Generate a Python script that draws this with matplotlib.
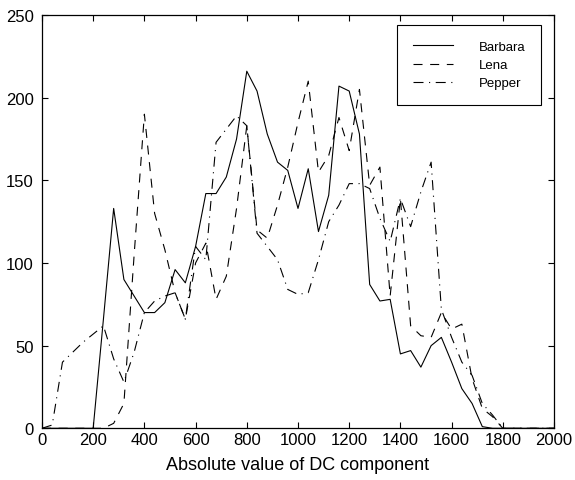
import matplotlib
matplotlib.use("Agg")
import matplotlib.pyplot as plt
import numpy as np

plt.rcParams['font.family'] = ['Liberation Sans', 'DejaVu Sans']
plt.rcParams['lines.scale_dashes'] = False

x_values = list(range(0, 2001, 40))

barbara = [0, 0, 0, 0, 0, 0, 66, 133, 90, 80,
           70, 70, 76, 96, 88, 110, 142, 142, 152, 175,
           216, 204, 178, 161, 156, 133, 157, 119, 141, 207,
           204, 178, 87, 77, 78, 45, 47, 37, 50, 55,
           40, 24, 15, 1, 0, 0, 0, 0, 0, 0, 0]

lena = [0, 0, 0, 0, 0, 0, 0, 3, 15, 105,
        190, 130, 108, 82, 66, 100, 112, 78, 92, 133,
        183, 120, 115, 135, 158, 185, 210, 155, 165, 188,
        168, 205, 147, 158, 80, 139, 62, 56, 55, 70,
        60, 63, 30, 12, 7, 0, 0, 0, 0, 0, 0]

pepper = [0, 2, 40, 46, 52, 57, 62, 42, 28, 46,
          70, 77, 80, 82, 66, 110, 102, 173, 181, 189,
          183, 118, 110, 102, 84, 81, 82, 102, 125, 135,
          148, 148, 145, 127, 113, 139, 122, 143, 161, 72,
          55, 40, 32, 15, 8, 0, 0, 0, 0, 0, 0]

series_names = ['Barbara', 'Lena', 'Pepper']
x_ticks = list(range(0, 2001, 200))
y_ticks = list(range(0, 251, 50))
x_label = 'Absolute value of DC component'

fig = plt.figure(figsize=(5.75, 4.81), dpi=100)
ax = fig.add_axes([0.073, 0.1075, 0.8905, 0.8592])

lw = 0.8
ax.plot(x_values, barbara, color='black', linewidth=lw, linestyle='-', label=series_names[0])
ax.plot(x_values, lena, color='black', linewidth=lw, dashes=(6.5, 5.5), label=series_names[1])
ax.plot(x_values, pepper, color='black', linewidth=lw, dashes=(7.2, 4.0, 0.8, 4.0), label=series_names[2])

ax.set_xlim(0, 2000)
ax.set_ylim(0, 250)
ax.set_xticks(x_ticks)
ax.set_yticks(y_ticks)
ax.tick_params(direction='in', top=True, right=True, length=4, width=0.8,
               labelsize=12)
ax.tick_params(axis='x', pad=3)
ax.tick_params(axis='y', pad=6)
for s in ax.spines.values():
    s.set_linewidth(0.9)
ax.set_xlabel(x_label, fontsize=13, labelpad=6)

leg = ax.legend(loc='upper right', bbox_to_anchor=(0.9746, 0.9758), borderaxespad=0,
                fancybox=False, framealpha=1, edgecolor='black', fontsize=9.5,
                handlelength=3.1, handletextpad=1.9, labelspacing=0.45,
                borderpad=1.2)
leg.get_frame().set_linewidth(0.8)

fig.savefig('out.png', dpi=100)
